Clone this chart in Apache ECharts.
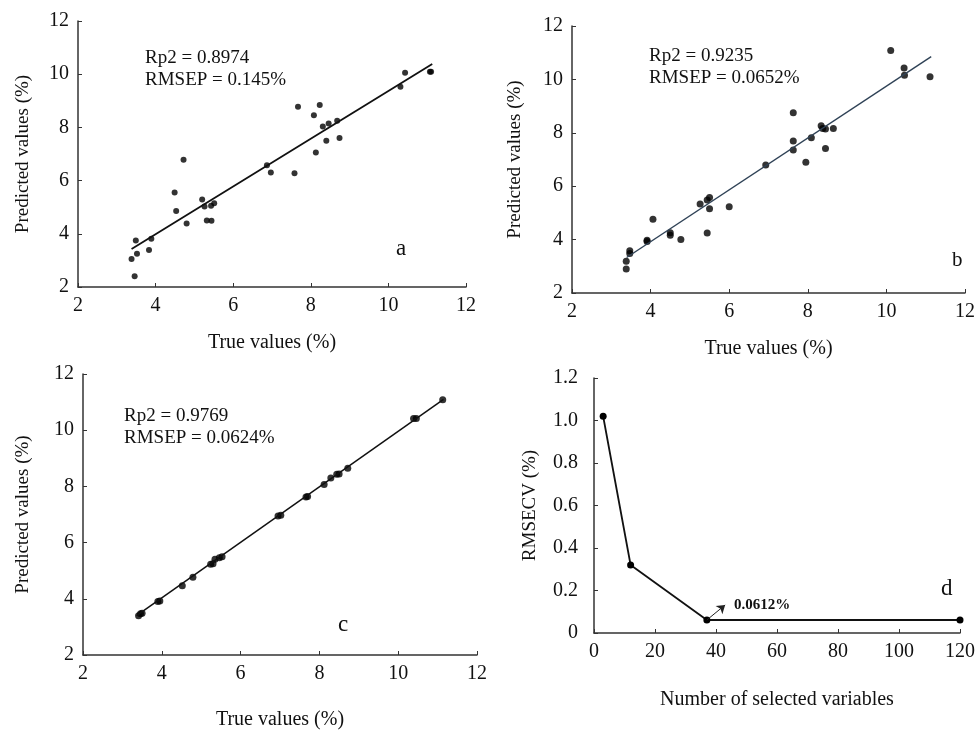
<!DOCTYPE html>
<html>
<head>
    <meta charset="utf-8" />
    <title>PLS prediction plots</title>
    <script src="https://cdn.jsdelivr.net/npm/echarts@6/dist/echarts.min.js"></script>
    <style>
        body { margin: 0; background: #fff; }
        #main { width: 978px; height: 731px; }
    </style>
</head>
<body>
<div id="main"></div>
<script type="text/javascript">
    // panel a : true vs predicted
    var pointsA = [
        [3.38, 3.05], [3.46, 2.40], [3.49, 3.75], [3.52, 3.25], [3.83, 3.39], [3.89, 3.81],
        [4.49, 5.55], [4.53, 4.86], [4.72, 6.78], [4.80, 4.39], [5.20, 5.29], [5.26, 5.03],
        [5.32, 4.50], [5.44, 4.49], [5.43, 5.05], [5.51, 5.15], [6.87, 6.58], [6.97, 6.30],
        [7.58, 6.28], [7.67, 8.78], [8.08, 8.46], [8.13, 7.06], [8.23, 8.84], [8.31, 8.03],
        [8.40, 7.50], [8.46, 8.15], [8.68, 8.25], [8.74, 7.60], [10.31, 9.53], [10.43, 10.05],
        [11.07, 10.09], [11.10, 10.09]
    ];
    var fitA = [[3.38, 3.43], [11.13, 10.38]];

    // panel b
    var pointsB = [
        [3.38, 2.90], [3.38, 3.19], [3.47, 3.58], [3.47, 3.48], [3.91, 3.98], [3.91, 3.93],
        [4.06, 4.76], [4.50, 4.26], [4.50, 4.16], [4.77, 4.00], [5.26, 5.33], [5.44, 4.25],
        [5.44, 5.48], [5.50, 5.58], [5.50, 5.16], [6.00, 5.23], [6.93, 6.79], [7.63, 8.75],
        [7.63, 7.69], [7.63, 7.36], [7.95, 6.90], [8.09, 7.81], [8.34, 8.26], [8.38, 8.16],
        [8.45, 8.14], [8.45, 7.41], [8.65, 8.16], [10.11, 11.08], [10.45, 10.43], [10.46, 10.16],
        [11.11, 10.10]
    ];
    var fitB = [[3.39, 3.33], [11.14, 10.85]];

    // panel c
    var pointsC = [
        [3.41, 3.40], [3.46, 3.47], [3.50, 3.49], [3.90, 3.90], [3.95, 3.92], [4.52, 4.46],
        [4.79, 4.77], [5.24, 5.23], [5.30, 5.25], [5.35, 5.41], [5.46, 5.46], [5.53, 5.50],
        [6.95, 6.95], [7.02, 6.97], [7.66, 7.62], [7.70, 7.64], [8.12, 8.07], [8.29, 8.30],
        [8.44, 8.43], [8.50, 8.44], [8.72, 8.65], [10.39, 10.42], [10.46, 10.42], [11.13, 11.08]
    ];
    var fitC = [[3.36, 3.40], [11.15, 11.10]];

    // panel d : RMSECV vs number of variables
    var nVars = [3, 12, 37, 120];
    var rmsecv = [1.02, 0.32, 0.0612, 0.0612];

    var xTitle = 'True values (%)';
    var yTitle = 'Predicted values (%)';
    var serif = 'Liberation Serif';

    function pairs(xs, ys) {
        var out = [];
        for (var i = 0; i < xs.length; i++) out.push([xs[i], ys[i]]);
        return out;
    }

    function valueAxis(idx, min, max, step, name, gap, nameSize, isD) {
        return {
            type: 'value',
            gridIndex: idx,
            min: min, max: max, interval: step,
            name: name,
            nameLocation: 'middle',
            nameGap: gap,
            nameTextStyle: { fontFamily: serif, fontSize: nameSize, color: '#111' },
            splitLine: { show: false },
            axisLine: { show: true, lineStyle: { color: '#333', width: 1.5 } },
            axisTick: { show: true, inside: true, length: 4, lineStyle: { color: '#333' } },
            axisLabel: {
                fontFamily: serif, fontSize: 20, color: '#111', margin: isD === 'y' ? 16 : 9,
                formatter: isD === 'y' ? function (v) { return v === 0 ? '0' : v.toFixed(1); } : null
            }
        };
    }

    function txt(left, top, text, size, bold) {
        return {
            type: 'text', left: left, top: top,
            style: { text: text, font: (bold ? 'bold ' : '') + size + 'px "Liberation Serif"', fill: '#111', lineHeight: 22 }
        };
    }

    var option = {
        backgroundColor: '#ffffff',
        animation: false,
        grid: [
            { left: 78, top: 21, width: 388, height: 266 },
            { left: 572, top: 26, width: 401, height: 267 },
            { left: 83, top: 374, width: 394, height: 281 },
            { left: 594, top: 378, width: 368, height: 255 }
        ],
        xAxis: [
            valueAxis(0, 2, 12, 2, xTitle, 46, 20),
            valueAxis(1, 2, 12, 2, xTitle, 46, 20),
            valueAxis(2, 2, 12, 2, xTitle, 55, 20),
            valueAxis(3, 0, 120, 20, 'Number of selected variables', 57, 20)
        ],
        yAxis: [
            valueAxis(0, 2, 12, 2, yTitle, 45, 19),
            valueAxis(1, 2, 12, 2, yTitle, 47, 19),
            valueAxis(2, 2, 12, 2, yTitle, 50, 19),
            valueAxis(3, 0, 1.2, 0.2, 'RMSECV (%)', 54, 19, 'y')
        ],
        graphic: [
            txt(145, 47, 'Rp2 = 0.8974\nRMSEP = 0.145%', 19),
            txt(649, 45, 'Rp2 = 0.9235\nRMSEP = 0.0652%', 19),
            txt(124, 405, 'Rp2 = 0.9769\nRMSEP = 0.0624%', 19),
            txt(396, 237, 'a', 23),
            txt(952, 249, 'b', 21),
            txt(338, 613, 'c', 23),
            txt(941, 577, 'd', 23),
            txt(734, 594, '0.0612%', 15, true)
        ],
        series: [
            {
                type: 'line', xAxisIndex: 0, yAxisIndex: 0, data: fitA, symbol: 'none',
                lineStyle: { color: '#111', width: 1.8 }
            },
            {
                type: 'scatter', xAxisIndex: 0, yAxisIndex: 0, data: pointsA, symbolSize: 6,
                itemStyle: { color: '#000' }
            },
            {
                type: 'line', xAxisIndex: 1, yAxisIndex: 1, data: fitB, symbol: 'none',
                lineStyle: { color: '#2f4256', width: 1.4 }
            },
            {
                type: 'scatter', xAxisIndex: 1, yAxisIndex: 1, data: pointsB, symbolSize: 7,
                itemStyle: { color: '#000' }
            },
            {
                type: 'line', xAxisIndex: 2, yAxisIndex: 2, data: fitC, symbol: 'none',
                lineStyle: { color: '#111', width: 1.5 }
            },
            {
                type: 'scatter', xAxisIndex: 2, yAxisIndex: 2, data: pointsC, symbolSize: 7,
                itemStyle: { color: '#000' }
            },
            {
                type: 'line', xAxisIndex: 3, yAxisIndex: 3, data: pairs(nVars, rmsecv),
                symbol: 'circle', symbolSize: 7,
                lineStyle: { color: '#111', width: 1.8 },
                itemStyle: { color: '#000' },
                markLine: {
                    silent: true,
                    symbol: ['none', 'arrow'],
                    symbolSize: 8,
                    label: { show: false },
                    lineStyle: { color: '#222', width: 1, type: 'solid' },
                    data: [[{ coord: [37, 0.0612] }, { coord: [43, 0.132] }]]
                }
            }
        ]
    };

    var myChart = echarts.init(document.getElementById('main'));
    myChart.setOption(option);
</script>
</body>
</html>
